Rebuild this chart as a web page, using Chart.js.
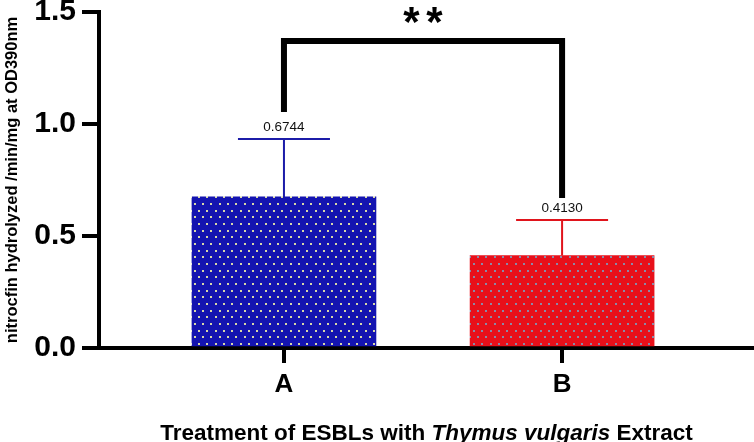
<!DOCTYPE html>
<html>
<head>
<meta charset="utf-8">
<title>Thymus vulgaris extract - ESBL activity</title>
<script src="https://cdn.jsdelivr.net/npm/chart.js@4.4.1/dist/chart.umd.min.js"></script>
<style>
    html, body { margin: 0; padding: 0; background: #fff; }
    #wrap { width: 754px; height: 442px; position: relative; }
</style>
</head>
<body>
<div id="wrap"><canvas id="barChart"></canvas></div>
<script>
// Data
const categories = ['A', 'B'];
const meanValues = [0.6744, 0.4130];
const sdValues = [0.259, 0.158];
const valueLabels = ['0.6744', '0.4130'];
const yTickValues = [0, 0.5, 1.0, 1.5];

// significance bracket (data units)
const bracketTop = 1.371;
const bracketLeftEnd = 1.054;
const bracketRightEnd = 0.670;
const starsLevel = 1.491;
const starsText = '**';

const FONT = '"Liberation Sans", Arial, Helvetica, sans-serif';

// dotted fill like the original bars
function makeDotPattern(base, dot) {
    const c = document.createElement('canvas');
    c.width = 25;
    c.height = 40;
    const g = c.getContext('2d');
    g.fillStyle = base;
    g.fillRect(0, 0, 25, 40);
    g.fillStyle = dot;
    for (let r = 0; r < 6; r++) {
        const y = Math.round(3 + r * 6.667);
        const shift = (r % 2) ? 4.17 : 0;
        for (let k = 0; k < 3; k++) {
            const x = Math.round(2 + shift + k * 8.333);
            g.fillRect(x, y, 2, 2);
        }
    }
    return g.createPattern(c, 'repeat');
}

const barFills = [
    makeDotPattern('#1414b0', '#d8d8a8'),
    makeDotPattern('#e8101a', '#8a8aa8')
];
const errorColors = ['#1c1ca8', '#e0141c'];

// Error bars, value labels, bracket and x-axis title
const extrasPlugin = {
    id: 'extras',
    afterDatasetsDraw(chart) {
        const ctx = chart.ctx;
        const xs = chart.scales.x;
        const ys = chart.scales.y;
        ctx.save();

        meanValues.forEach((m, i) => {
            const cx = xs.getPixelForValue(i);
            const yMean = ys.getPixelForValue(m);
            const yTop = ys.getPixelForValue(m + sdValues[i]);
            ctx.strokeStyle = errorColors[i];
            ctx.lineWidth = 2;
            ctx.beginPath();
            ctx.moveTo(cx, yMean);
            ctx.lineTo(cx, yTop);
            ctx.moveTo(cx - 46, yTop);
            ctx.lineTo(cx + 46, yTop);
            ctx.stroke();

            ctx.fillStyle = '#111';
            ctx.font = '13.5px ' + FONT;
            ctx.textAlign = 'center';
            ctx.textBaseline = 'middle';
            ctx.fillText(valueLabels[i], cx, yTop - 12);
        });

        // significance bracket
        const xA = xs.getPixelForValue(0);
        const xB = xs.getPixelForValue(1);
        const yT = ys.getPixelForValue(bracketTop);
        ctx.strokeStyle = '#000';
        ctx.lineWidth = 6;
        ctx.lineJoin = 'miter';
        ctx.beginPath();
        ctx.moveTo(xA, ys.getPixelForValue(bracketLeftEnd));
        ctx.lineTo(xA, yT);
        ctx.lineTo(xB, yT);
        ctx.lineTo(xB, ys.getPixelForValue(bracketRightEnd));
        ctx.stroke();

        // the two stars, drawn a little apart as in the figure
        ctx.fillStyle = '#000';
        ctx.font = 'bold 42px ' + FONT;
        ctx.textAlign = 'center';
        ctx.textBaseline = 'middle';
        const midX = (xA + xB) / 2;
        const starY = ys.getPixelForValue(starsLevel) + 10;
        starsText.split('').forEach((s, k, arr) => {
            const off = (k - (arr.length - 1) / 2) * 23;
            ctx.fillText(s, midX + off, starY);
        });

        // x-axis title with italic species name
        const parts = [
            ['Treatment of ESBLs with ', 'bold 22.5px ' + FONT],
            ['Thymus vulgaris', 'italic bold 22.5px ' + FONT],
            [' Extract', 'bold 22.5px ' + FONT]
        ];
        let total = 0;
        parts.forEach(p => { ctx.font = p[1]; total += ctx.measureText(p[0]).width; });
        let x = (chart.chartArea.left + chart.chartArea.right) / 2 - total / 2;
        ctx.textAlign = 'left';
        ctx.textBaseline = 'alphabetic';
        parts.forEach(p => {
            ctx.font = p[1];
            ctx.fillText(p[0], x, 440);
            x += ctx.measureText(p[0]).width;
        });
        ctx.restore();
    }
};

const ctx = document.getElementById('barChart').getContext('2d');
new Chart(ctx, {
    type: 'bar',
    data: {
        datasets: [{
            data: meanValues.map((v, i) => ({ x: i, y: v })),
            backgroundColor: barFills,
            borderWidth: 0,
            barThickness: 184
        }]
    },
    options: {
        responsive: true,
        maintainAspectRatio: false,
        animation: false,
        layout: { padding: { top: 12, left: 0, right: 0, bottom: 0 } },
        plugins: {
            legend: { display: false },
            tooltip: { enabled: false }
        },
        scales: {
            x: {
                type: 'linear',
                offset: false,
                min: -0.665,
                max: 1.69,
                afterBuildTicks: scale => {
                    scale.ticks = categories.map((c, i) => ({ value: i }));
                },
                afterFit: scale => {
                    scale.height = 94;
                    scale.paddingLeft = 0;
                    scale.paddingRight = 0;
                },
                grid: {
                    offset: false,
                    drawOnChartArea: false,
                    drawTicks: true,
                    tickLength: 15,
                    tickWidth: 4,
                    lineWidth: 4,
                    color: '#000'
                },
                border: { display: true, color: '#000', width: 4 },
                ticks: {
                    color: '#000',
                    padding: 6,
                    maxRotation: 0,
                    font: { family: FONT, size: 26, weight: 'bold' },
                    callback: v => categories[v]
                }
            },
            y: {
                min: 0,
                max: 1.5,
                afterBuildTicks: scale => {
                    scale.ticks = yTickValues.map(v => ({ value: v }));
                },
                afterFit: scale => {
                    scale.width = 99;
                    scale.paddingTop = 0;
                    scale.paddingBottom = 0;
                },
                grid: {
                    drawOnChartArea: false,
                    drawTicks: true,
                    tickLength: 17,
                    tickWidth: 4,
                    lineWidth: 4,
                    color: '#000'
                },
                border: { display: true, color: '#000', width: 4 },
                ticks: {
                    color: '#000',
                    padding: 6,
                    font: { family: FONT, size: 30, weight: 'bold' },
                    callback: v => v.toFixed(1)
                },
                title: {
                    display: true,
                    text: 'nitrocfin hydrolyzed /min/mg at OD390nm',
                    color: '#000',
                    padding: { top: 3, bottom: 0 },
                    font: { family: FONT, size: 16.5, weight: 'bold' }
                }
            }
        }
    },
    plugins: [extrasPlugin]
});
</script>
</body>
</html>
